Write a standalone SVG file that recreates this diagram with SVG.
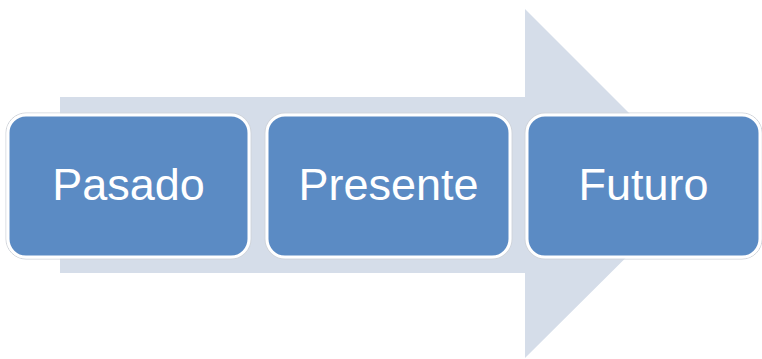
<svg xmlns="http://www.w3.org/2000/svg" width="762" height="359" viewBox="0 0 762 359">
<style>
.box{fill:#5B8BC4;stroke:#FFFFFF;stroke-width:3}
.halo{fill:none;stroke:#D0D4DA;stroke-width:1}
.lbl{font-family:"Liberation Sans",Arial,sans-serif;font-size:45px;fill:#FFFFFF;text-anchor:middle}
</style>
<rect width="762" height="359" fill="#FFFFFF"/>
<g id="arrow">
<path d="M60,97 H525 V9 L700,184 L525,358 V273 H60 Z" fill="#D5DDE9"/>
</g>
<g id="connectors"></g>
<g id="pasado">
<rect class="halo" x="6" y="113" width="245" height="146" rx="20"/>
<rect class="box" x="8" y="115" width="241" height="142" rx="18"/>
<text class="lbl" x="128.5" y="200">Pasado</text>
</g>
<g id="presente">
<rect class="halo" x="265" y="113" width="247" height="146" rx="20"/>
<rect class="box" x="267" y="115" width="243" height="142" rx="18"/>
<text class="lbl" x="388.5" y="200">Presente</text>
</g>
<g id="futuro">
<rect class="halo" x="525" y="113" width="237" height="146" rx="20"/>
<rect class="box" x="527" y="115" width="233" height="142" rx="18"/>
<text class="lbl" x="643.5" y="200">Futuro</text>
</g>
</svg>
